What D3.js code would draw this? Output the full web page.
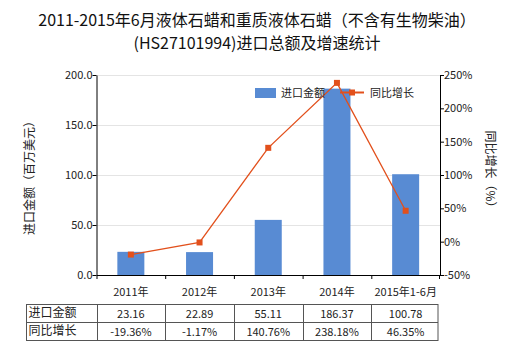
<!DOCTYPE html>
<html><head><meta charset="utf-8">
<script src="https://cdn.jsdelivr.net/npm/d3@7"></script>
<style>body{margin:0;background:#fff}svg{display:block}text{font-family:"Microsoft YaHei","Noto Sans CJK SC",sans-serif}</style>
</head><body><svg id="c" width="520" height="350"></svg>
<script>
const categories = ["2011年","2012年","2013年","2014年","2015年1-6月"];
const importValues = [23.16, 22.89, 55.11, 186.37, 100.78];
const growthValues = [-19.36, -1.17, 140.76, 238.18, 46.35];
const importLabels = ["23.16","22.89","55.11","186.37","100.78"];
const growthLabels = ["-19.36%","-1.17%","140.76%","238.18%","46.35%"];
const leftTicks = [0, 50, 100, 150, 200];
const rightTicks = [-50, 0, 50, 100, 150, 200, 250];

const svg = d3.select("#c");
const L = 96.5, R = 440, T = 75, B = 275;
const barColor = "#588bd3", lineColor = "#e2501c";

const xb = d3.scaleBand().domain(categories).range([L, R]);
const yL = d3.scaleLinear().domain([0, 200]).range([B, T]);
const yR = d3.scaleLinear().domain([-50, 250]).range([B, T]);

// title
svg.append("text").attr("x", 257).attr("y", 26).attr("text-anchor", "middle").attr("font-size", 16).attr("fill", "#111")
  .text("2011-2015年6月液体石蜡和重质液体石蜡（不含有生物柴油）");
svg.append("text").attr("x", 257).attr("y", 49).attr("text-anchor", "middle").attr("font-size", 16).attr("fill", "#111")
  .text("(HS27101994)进口总额及增速统计");

// grid
svg.append("g").selectAll("line").data(leftTicks.filter(d => d > 0)).join("line")
  .attr("x1", L).attr("x2", R).attr("y1", d => yL(d) + 0.5).attr("y2", d => yL(d) + 0.5)
  .attr("stroke", "#e4e4e4").attr("stroke-width", 1);

// bars
svg.append("g").selectAll("rect").data(importValues).join("rect")
  .attr("x", (d, i) => xb(categories[i]) + xb.bandwidth() / 2 - 13.5)
  .attr("width", 27)
  .attr("y", d => yL(d)).attr("height", d => B - yL(d))
  .attr("fill", barColor);

// axes
const axL = d3.axisLeft(yL).tickValues(leftTicks).tickFormat(d3.format(".1f")).tickSize(4).tickSizeOuter(0);
const gL = svg.append("g").attr("transform", `translate(${L},0)`).call(axL);
const axR = d3.axisRight(yR).tickValues(rightTicks).tickFormat(d => d + "%").tickSize(4).tickSizeOuter(0);
const gR = svg.append("g").attr("transform", `translate(${R},0)`).call(axR);
const axB = d3.axisBottom(xb).tickSize(0).tickSizeOuter(0);
const gB = svg.append("g").attr("transform", `translate(0,${B})`).call(axB);
[gL, gR, gB].forEach(g => {
  g.select(".domain").attr("stroke", "#000");
  g.selectAll(".tick line").attr("stroke", "#000");
  g.selectAll("text").attr("font-size", 11).attr("fill", "#222").attr("font-family", '"Microsoft YaHei","Noto Sans CJK SC",sans-serif');
});
gL.selectAll("text").attr("x", -4);
gR.selectAll("text").attr("x", 4);
gB.selectAll("text").attr("dy", "1.6em");
// category tick marks between bands
svg.append("g").selectAll("line").data(categories).join("line")
  .attr("x1", d => xb(d) + 0.5).attr("x2", d => xb(d) + 0.5).attr("y1", B).attr("y2", B + 4).attr("stroke", "#000");
svg.append("line").attr("x1", R - 0.5).attr("x2", R - 0.5).attr("y1", B).attr("y2", B + 4).attr("stroke", "#000");

// axis titles
svg.append("text").attr("transform", `translate(34,${(T + B) / 2}) rotate(-90)`).attr("text-anchor", "middle")
  .attr("font-size", 12).attr("fill", "#222").text("进口金额（百万美元）");
svg.append("text").attr("transform", `translate(486,${(T + B) / 2 - 3}) rotate(90)`).attr("text-anchor", "middle")
  .attr("font-size", 12).attr("fill", "#222").text("同比增长（%）");

// line
const cx = i => xb(categories[i]) + xb.bandwidth() / 2;
const line = d3.line().x((d, i) => cx(i)).y(d => yR(d));
svg.append("path").datum(growthValues).attr("d", line).attr("fill", "none").attr("stroke", lineColor).attr("stroke-width", 1.3);
svg.append("g").selectAll("rect").data(growthValues).join("rect")
  .attr("x", (d, i) => cx(i) - 3).attr("y", d => yR(d) - 3).attr("width", 6).attr("height", 6)
  .attr("fill", lineColor);

// legend
svg.append("rect").attr("x", 255).attr("y", 88).attr("width", 21).attr("height", 10).attr("fill", barColor);
svg.append("text").attr("x", 281).attr("y", 97).attr("font-size", 11).attr("fill", "#222").text("进口金额");
svg.append("line").attr("x1", 340).attr("x2", 364).attr("y1", 92.5).attr("y2", 92.5).attr("stroke", lineColor).attr("stroke-width", 2);
svg.append("rect").attr("x", 349).attr("y", 89.5).attr("width", 6).attr("height", 6).attr("fill", lineColor);
svg.append("text").attr("x", 370).attr("y", 97).attr("font-size", 11).attr("fill", "#222").text("同比增长");

// table
const tL = 26.5, tT = 304, rowH = 18;
const tb = svg.append("g");
tb.append("rect").attr("x", tL).attr("y", tT + 0.5).attr("width", R - 2 - tL).attr("height", rowH * 2).attr("fill", "none").attr("stroke", "#555");
tb.append("line").attr("x1", tL).attr("x2", R - 2).attr("y1", tT + rowH + 0.5).attr("y2", tT + rowH + 0.5).attr("stroke", "#555");
const colX = [L].concat(categories.slice(1).map(c => xb(c)));
tb.selectAll("line.v").data(colX).join("line").attr("class", "v")
  .attr("x1", d => Math.round(d) + 0.5).attr("x2", d => Math.round(d) + 0.5).attr("y1", tT).attr("y2", tT + rowH * 2 + 0.5).attr("stroke", "#555");
const rows = [["进口金额", importLabels], ["同比增长", growthLabels]];
rows.forEach((r, ri) => {
  const cy = tT + rowH * ri + rowH / 2 + 5;
  tb.append("text").attr("x", tL + 2).attr("y", cy - 1).attr("font-size", 12).attr("fill", "#222").text(r[0]);
  tb.selectAll(null).data(r[1]).join("text")
    .attr("x", (d, i) => cx(i)).attr("y", cy).attr("text-anchor", "middle").attr("font-size", 11).attr("fill", "#222").text(d => d);
});
</script></body></html>
